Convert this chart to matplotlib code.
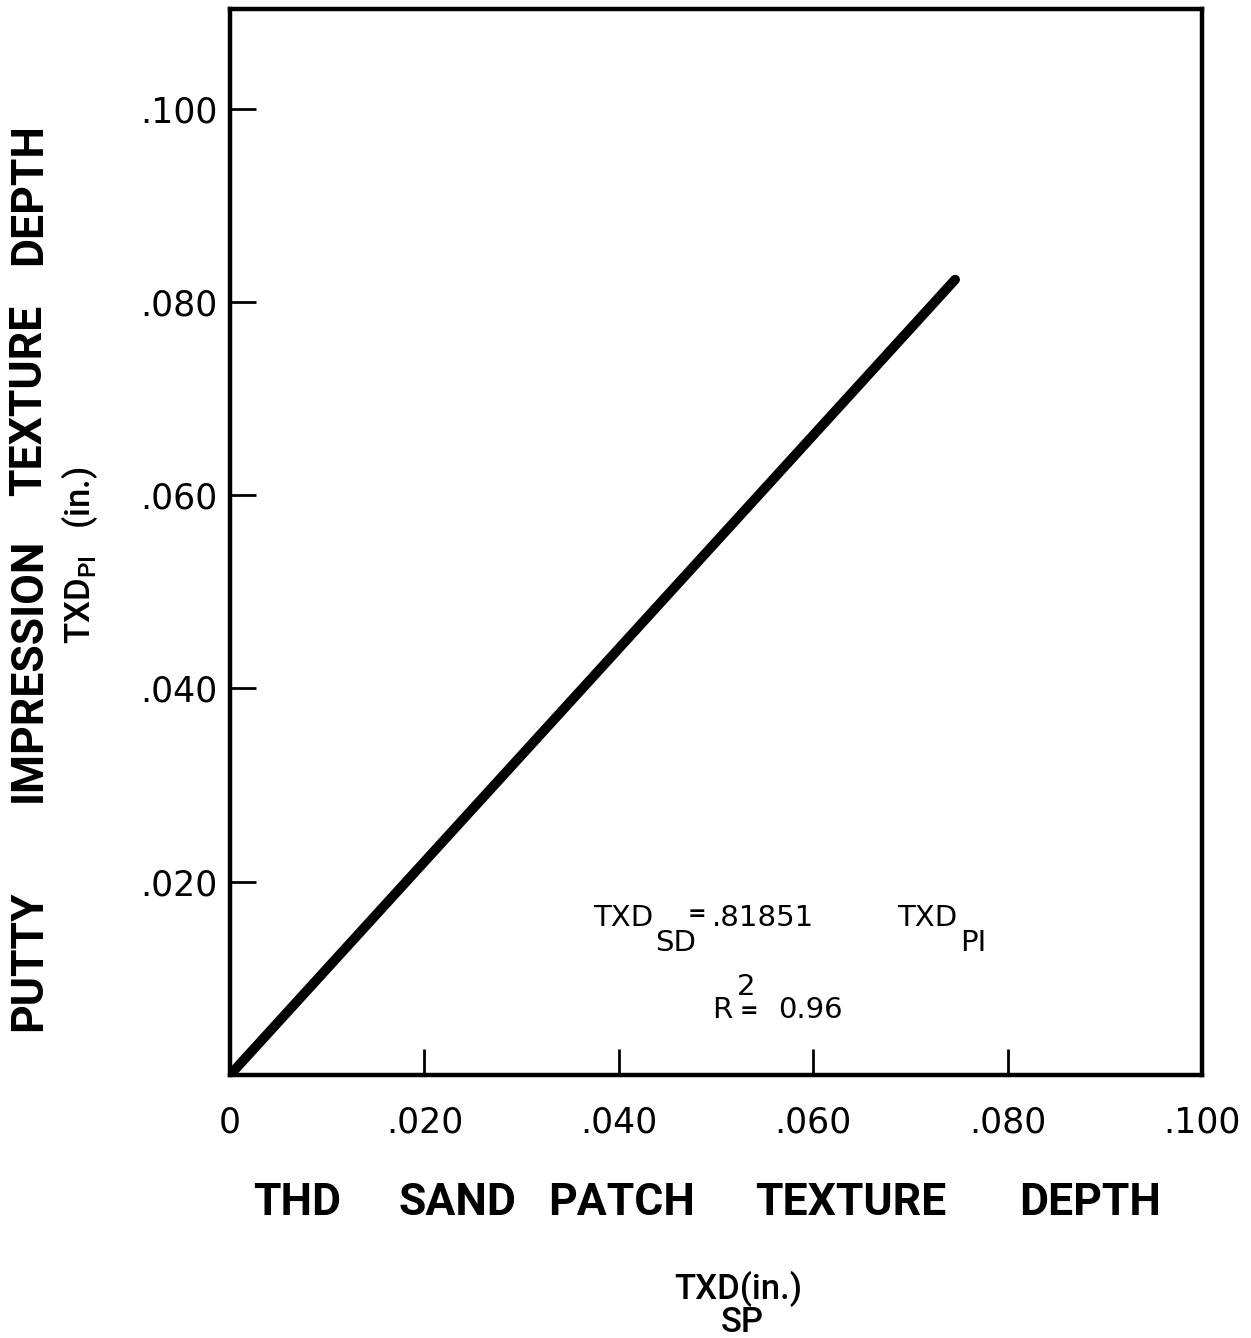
"""
Sand patch vs putty impression texture depth - regression line
"""

import matplotlib.pyplot as plt

# Regression line end points (in.)
fit_sp = [0.0, 0.0746]
fit_pi = [0.0, 0.0823]

x_ticks = [0.0, 0.020, 0.040, 0.060, 0.080, 0.100]
x_tick_labels = ['0', '.020', '.040', '.060', '.080', '.100']
y_ticks = [0.020, 0.040, 0.060, 0.080, 0.100]
y_tick_labels = ['.020', '.040', '.060', '.080', '.100']

x_words = ['THD', 'SAND', 'PATCH', 'TEXTURE', 'DEPTH']
y_words = ['PUTTY', 'IMPRESSION', 'TEXTURE', 'DEPTH']

W, H = 1251, 1338
fig = plt.figure(figsize=(W / 100, H / 100), dpi=100)
ax = fig.add_axes([230 / W, 1 - 1075 / H, (1202 - 230) / W, (1075 - 9) / H])

ax.plot(fit_sp, fit_pi, color='black', linewidth=7, solid_capstyle='round')

ax.set_xlim(0, 0.0997)
ax.set_ylim(0, 0.1103)

for sp in ax.spines.values():
    sp.set_linewidth(3.2)

ax.set_xticks(x_ticks)
ax.set_xticklabels(x_tick_labels, fontsize=25, family='DejaVu Sans')
ax.set_yticks(y_ticks)
ax.set_yticklabels(y_tick_labels, fontsize=25, family='DejaVu Sans')
ax.tick_params(axis='both', direction='in', length=19, width=2, color='black')
ax.tick_params(axis='x', pad=22)
ax.tick_params(axis='y', pad=9)

# axis titles, word by word (wide spacing as in the original lettering)
bold = dict(fontsize=32, fontweight='bold', family='Roboto', color='black')
x_word_pos = [297, 457, 622, 851, 1090]
for w, px in zip(x_words, x_word_pos):
    fig.text(px / W, 1 - 1203 / H, w, ha='center', va='center', **bold)

y_word_pos = [961, 670, 400, 194]
for w, py in zip(y_words, y_word_pos):
    fig.text(29 / W, 1 - py / H, w, ha='center', va='center', rotation=90, **bold)

norm = dict(fontsize=25, family='Roboto', fontweight='medium', color='black')
fig.text(80 / W, 1 - 555 / H, r'TXD$_{\mathregular{PI}}$   (in.)', ha='center',
         va='center', rotation=90, **norm)
fig.text(738 / W, 1 - 1289 / H, 'TXD(in.)', ha='center', va='center', **norm)
fig.text(742 / W, 1 - 1322 / H, 'SP', ha='center', va='center', **norm)

# regression equation
ann = dict(fontsize=21, family='DejaVu Sans', color='black')
eq = dict(fontsize=16, family='DejaVu Sans', color='black', fontweight='bold')
fig.text(593 / W, 1 - 918 / H, 'TXD', ha='left', va='center', **ann)
fig.text(655 / W, 1 - 943 / H, 'SD', ha='left', va='center', **ann)
fig.text(688 / W, 1 - 914 / H, '=', ha='left', va='center', **eq)
fig.text(712 / W, 1 - 918 / H, '.81851', ha='left', va='center', **ann)
fig.text(897 / W, 1 - 918 / H, 'TXD', ha='left', va='center', **ann)
fig.text(960 / W, 1 - 943 / H, 'PI', ha='left', va='center', **ann)
fig.text(712 / W, 1 - 1010 / H, 'R', ha='left', va='center', **ann)
fig.text(737 / W, 1 - 987 / H, '2', ha='left', va='center', **ann)
fig.text(740 / W, 1 - 1011 / H, '=', ha='left', va='center', **eq)
fig.text(778 / W, 1 - 1010 / H, '0.96', ha='left', va='center', **ann)

fig.savefig('out.png', dpi=100)
